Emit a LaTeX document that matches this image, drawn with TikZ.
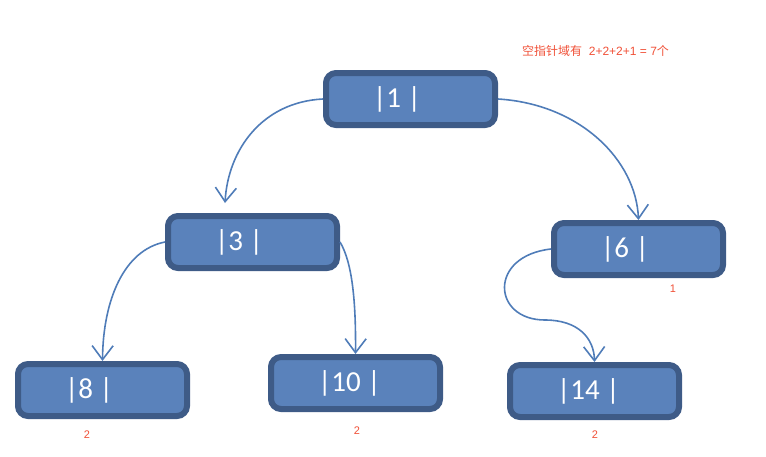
\documentclass[tikz,border=0pt]{standalone}
\usepackage{fontspec}
\setmainfont{Carlito}
\newfontfamily\cjkfont{Noto Sans CJK SC}
\newfontfamily\notefont{Liberation Sans}
\usetikzlibrary{arrows.meta}
\definecolor{boxfill}{RGB}{90,130,187}
\definecolor{boxline}{RGB}{62,91,135}
\definecolor{linkcol}{RGB}{79,124,184}
\definecolor{notecol}{RGB}{240,80,55}
\begin{document}
\begin{tikzpicture}[x=1pt,y=-1pt,
  treenode/.style={draw=boxline, fill=boxfill, line width=6pt, rounded corners=10pt,
    minimum width=169pt, minimum height=52pt, inner sep=0pt,
    text=white, font=\fontsize{29}{30}\selectfont},
  link/.style={draw=linkcol, line width=1.6pt,
    -{Straight Barb[length=14pt,width=21pt,line width=1.6pt]}},
  note/.style={text=notecol, font=\notefont\fontsize{11}{13}\selectfont, inner sep=0pt}]
\useasboundingbox (0,0) rectangle (766,456);
\newcommand{\keytext}[1]{\makebox[163pt][l]{\hspace*{44pt}#1}}
% tree nodes
\node[treenode] (n1)  at (410.5,99)  {\keytext{|1 |}};
\node[treenode] (n3)  at (252.5,242) {\keytext{|3 |}};
\node[treenode] (n6)  at (638.5,249) {\keytext{|6 |}};
\node[treenode] (n8)  at (102.5,390) {\keytext{|8 |}};
\node[treenode] (n10) at (355.5,383) {\keytext{|10 |}};
\node[treenode] (n14) at (594.5,391) {\keytext{|14 |}};
% child links
\draw[link] (n1.west) .. controls (262,102) and (228,150) .. ([xshift=-27.5pt,yshift=10pt]n3.north);
\draw[link] (n1.east) .. controls (580,104) and (636,160) .. (n6.north);
\draw[link] (n3.west) .. controls (124,250) and (103,300) .. (n8.north);
\draw[link] (n3.east) .. controls (352,262) and (356,300) .. (n10.north);
\draw[link] (n6.west) .. controls (488,256) and (492,320) .. (545,320)
  .. controls (578,320) and (594,338) .. (n14.north);
% null-pointer counts
\node[note, anchor=west, font=\notefont\fontsize{12}{14}\selectfont] (total) at (522,51)
  {{\cjkfont 空指针域有}\ \ 2+2+2+1 = 7{\cjkfont 个}};
\node[note] (c6)  at (673,289) {1};
\node[note] (c8)  at (87,435)  {2};
\node[note] (c10) at (357,431) {2};
\node[note] (c14) at (595,435) {2};
\end{tikzpicture}
\end{document}
